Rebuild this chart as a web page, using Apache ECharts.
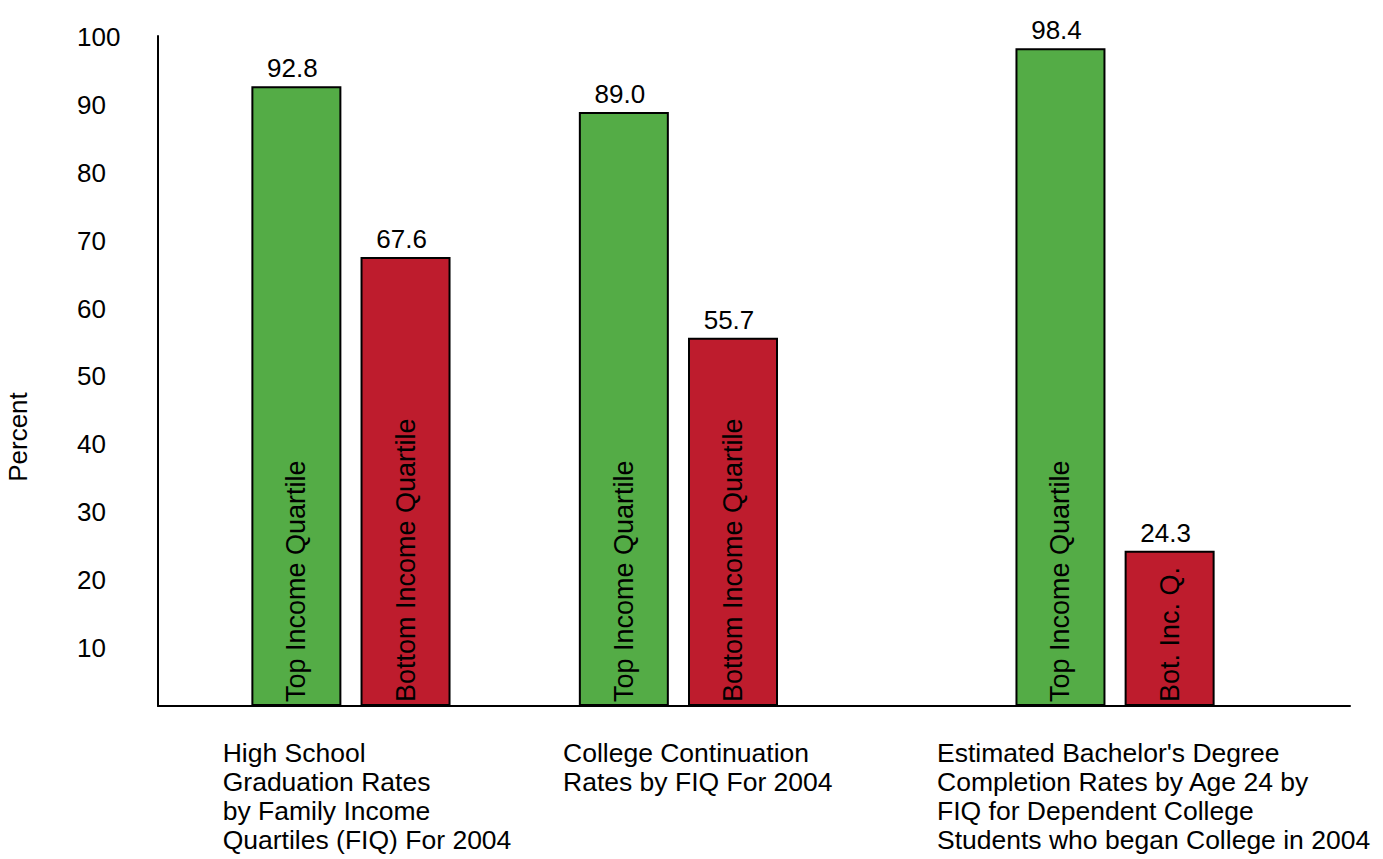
<!DOCTYPE html>
<html><head><meta charset="utf-8">
<script src="https://cdn.jsdelivr.net/npm/echarts@6/dist/echarts.min.js"></script>
<style>html,body{margin:0;padding:0;background:#fff;} #c{width:1383px;height:859px;}</style>
</head><body><div id="c"></div>
<script>
// ---- data ----
const categories = [
  "High School\nGraduation Rates\nby Family Income\nQuartiles (FIQ) For 2004",
  "College Continuation\nRates by FIQ For 2004",
  "Estimated Bachelor's Degree\nCompletion Rates by Age 24 by\nFIQ for Dependent College\nStudents who began College in 2004"
];
const topQuartile = [92.8, 89.0, 98.4];
const bottomQuartile = [67.6, 55.7, 24.3];
const topNames = ["Top Income Quartile", "Top Income Quartile", "Top Income Quartile"];
const bottomNames = ["Bottom Income Quartile", "Bottom Income Quartile", "Bot. Inc. Q."];
const yTickLabels = [10, 20, 30, 40, 50, 60, 70, 80, 90, 100];
const yAxisTitle = "Percent";

// ---- layout (not data) ----
const FONT = '"Liberation Sans", Arial, Helvetica, sans-serif';
const SLOT_COUNT = 9;
const groupSlots = [0, 3, 7];          // slot of the top-quartile bar in each group
const labelLefts = [222.7, 563, 937];   // left edges of category text blocks
const Y_MIN = 1.4, Y_MAX = 100.2;
const GREEN = '#54AC46', RED = '#BE1C2D';

const slotCats = Array.from({length: SLOT_COUNT}, (_, i) => 's' + i);
const greenData = Array(SLOT_COUNT).fill(null);
const redData = Array(SLOT_COUNT).fill(null);
const slotGroup = {};
topQuartile.forEach((v, i) => { greenData[groupSlots[i]] = v; slotGroup[groupSlots[i]] = i; });
bottomQuartile.forEach((v, i) => { redData[groupSlots[i] + 1] = v; slotGroup[groupSlots[i] + 1] = i; });

function valueSeries(data, color) {
  return {
    type: 'bar', xAxisIndex: 1, yAxisIndex: 1, data: data, barWidth: 90, barGap: '-100%',
    itemStyle: {color: color, borderColor: '#000', borderWidth: 2},
    label: {show: true, position: 'top', distance: 5, offset: [-4, 0], fontSize: 26, fontFamily: FONT, color: '#000',
      formatter: p => (p.value == null ? '' : Number(p.value).toFixed(1))}
  };
}
function textSeries(data, names) {
  return {
    type: 'bar', xAxisIndex: 1, yAxisIndex: 1, data: data, barWidth: 90, barGap: '-100%', silent: true,
    itemStyle: {color: 'rgba(0,0,0,0)', borderWidth: 0},
    label: {show: true, position: 'insideBottom', rotate: 90, align: 'left', verticalAlign: 'middle',
      distance: 4, fontSize: 27, fontFamily: FONT, color: '#000',
      formatter: p => (p.value == null ? '' : names[slotGroup[p.dataIndex]])}
  };
}

const chart = echarts.init(document.getElementById('c'), null, {renderer: 'svg'});
chart.setOption({
  animation: false,
  backgroundColor: '#fff',
  textStyle: {fontFamily: FONT},
  grid: [
    {left: 158, right: 33, top: 36, bottom: 153, containLabel: false, outerBoundsMode: 'none'},
    {left: 241.8, right: 158.8, top: 36, bottom: 153, containLabel: false, outerBoundsMode: 'none'}
  ],
  xAxis: [
    {type: 'category', gridIndex: 0, data: [''], axisLine: {lineStyle: {color: '#000', width: 2}},
      axisTick: {show: false}, axisLabel: {show: false}, splitLine: {show: false}},
    {type: 'category', gridIndex: 1, data: slotCats, show: false}
  ],
  yAxis: [
    {type: 'value', gridIndex: 0, min: Y_MIN, max: Y_MAX,
      axisLine: {show: true, lineStyle: {color: '#000', width: 2}},
      axisTick: {show: false}, splitLine: {show: false},
      axisLabel: {customValues: yTickLabels, align: 'left', margin: 81, fontSize: 26, fontFamily: FONT, color: '#000'},
      name: yAxisTitle, nameLocation: 'middle', nameRotate: 90, nameGap: 127,
      nameTextStyle: {fontSize: 26, fontFamily: FONT, color: '#000', padding: [0, 132, 0, 0]}},
    {type: 'value', gridIndex: 1, min: Y_MIN, max: Y_MAX, startValue: Y_MIN, show: false, splitLine: {show: false}}
  ],
  series: [
    valueSeries(greenData, GREEN),
    valueSeries(redData, RED),
    textSeries(greenData, topNames),
    textSeries(redData, bottomNames)
  ],
  graphic: categories.map((t, i) => ({
    type: 'text', left: labelLefts[i], top: 738, silent: true,
    style: {text: t, fill: '#000', fontSize: 26.5, fontFamily: FONT, lineHeight: 29}
  }))
});
</script>
</body></html>
